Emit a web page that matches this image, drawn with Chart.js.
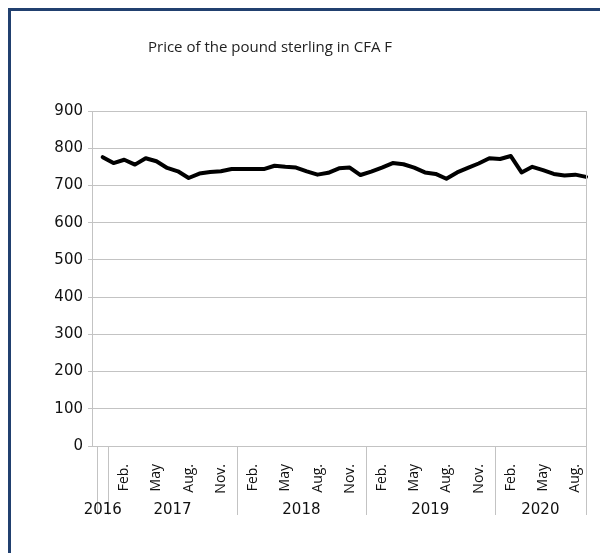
<!DOCTYPE html>
<html>
<head>
<meta charset="utf-8">
<script src="https://cdn.jsdelivr.net/npm/chart.js@4"></script>
<style>
  html, body { margin: 0; padding: 0; background: #fff; overflow: hidden; }
  #wrap { position: relative; width: 600px; height: 553px; }
  #frame {
    position: absolute; left: 8px; top: 8px; width: 620px; height: 580px;
    border-left: 3px solid #21406f; border-top: 3px solid #21406f;
    pointer-events: none;
  }
</style>
</head>
<body>
<div id="wrap">
  <canvas id="priceChart" width="600" height="553"></canvas>
  <div id="frame"></div>
</div>
<script>
// monthly categories, first one is an empty category (no data)
let months = ['', 'Dec.',
    'Jan.', 'Feb.', 'Mar.', 'Apr.', 'May', 'Jun.', 'Jul.', 'Aug.', 'Sep.', 'Oct.', 'Nov.', 'Dec.',
    'Jan.', 'Feb.', 'Mar.', 'Apr.', 'May', 'Jun.', 'Jul.', 'Aug.', 'Sep.', 'Oct.', 'Nov.', 'Dec.',
    'Jan.', 'Feb.', 'Mar.', 'Apr.', 'May', 'Jun.', 'Jul.', 'Aug.', 'Sep.', 'Oct.', 'Nov.', 'Dec.',
    'Jan.', 'Feb.', 'Mar.', 'Apr.', 'May', 'Jun.', 'Jul.', 'Aug.', 'Sep.'];

// year groups: label and how many months each covers
let yearNames = ['', '2016', '2017', '2018', '2019', '2020'];
let yearSizes = [1, 1, 12, 12, 12, 9];

let priceCFA = [null, 776,
    760, 769, 756, 773, 765, 747, 738, 720, 732, 736, 738, 744,
    744, 744, 744, 753, 750, 748, 738, 729, 734, 746, 748, 728,
    737, 748, 760, 757, 748, 735, 731, 718, 735, 747, 759, 773,
    771, 779, 735, 750, 741, 731, 727, 729, 723];

let yTicks = [0, 100, 200, 300, 400, 500, 600, 700, 800, 900];

let chartTitle = 'Price of the pound sterling in CFA F';

let gridColor = '#c3c3c3';
let numFont = 'DejaVu Sans';
let textFont = 'Open Sans';

// draws the title, the second level of the category axis (years) and the group separators
let yearAxis = {
    id: 'yearAxis',
    afterDraw(chart) {
        let ctx = chart.ctx;
        let x = chart.scales.x;
        let area = chart.chartArea;
        let start = 0;
        ctx.save();

        ctx.fillStyle = '#222';
        ctx.font = '15px "' + textFont + '"';
        ctx.textAlign = 'center';
        ctx.textBaseline = 'middle';
        ctx.fillText(chartTitle, 270, 48);

        ctx.strokeStyle = gridColor;
        ctx.lineWidth = 1;
        ctx.fillStyle = '#111';
        ctx.font = '15px "' + numFont + '"';
        for (let g = 0; g < yearNames.length; g++) {
            let end = start + yearSizes[g];
            let left = start === 0 ? area.left : (x.getPixelForValue(start - 1) + x.getPixelForValue(start)) / 2;
            let right = end >= months.length ? area.right : (x.getPixelForValue(end - 1) + x.getPixelForValue(end)) / 2;
            let top = end >= months.length ? area.top : area.bottom;
            let r = Math.round(right) + 0.5;
            ctx.beginPath();
            ctx.moveTo(r, top);
            ctx.lineTo(r, area.bottom + 69);
            ctx.stroke();
            if (yearNames[g]) {
                ctx.fillText(yearNames[g], (left + right) / 2, area.bottom + 64);
            }
            start = end;
        }
        ctx.restore();
    }
};

function drawChart() {
    let canvas = document.getElementById('priceChart');

    let data = {
        labels: months,
        datasets: [{
            label: chartTitle,
            data: priceCFA,
            borderColor: '#000',
            borderWidth: 4,
            borderJoinStyle: 'round',
            borderCapStyle: 'round',
            pointRadius: 0,
            tension: 0,
            fill: false
        }]
    };

    new Chart(canvas, {
        type: 'line',
        data: data,
        plugins: [yearAxis],
        options: {
            responsive: false,
            animation: false,
            layout: { padding: { left: 30, right: 14, top: 111, bottom: 0 } },
            plugins: {
                legend: { display: false },
                tooltip: { enabled: false },
                title: { display: false }
            },
            scales: {
                x: {
                    grid: { display: false },
                    border: { display: true, color: gridColor },
                    afterFit: (scale) => {
                        scale.height = 107;
                        scale.paddingLeft = 0;
                        scale.paddingRight = 0;
                    },
                    ticks: {
                        autoSkip: false,
                        minRotation: 90,
                        maxRotation: 90,
                        padding: 10,
                        color: '#111',
                        font: { family: textFont, size: 14 },
                        callback: function(value, index) {
                            return index % 3 === 0 ? months[index] : '';
                        }
                    }
                },
                y: {
                    min: 0,
                    max: 900,
                    afterFit: (scale) => { scale.width = 62; },
                    afterBuildTicks: (scale) => { scale.ticks = yTicks.map(v => ({ value: v })); },
                    grid: { color: gridColor, tickLength: 4 },
                    border: { color: gridColor },
                    ticks: {
                        padding: 5,
                        color: '#111',
                        font: { family: numFont, size: 15 }
                    }
                }
            }
        }
    });
}

drawChart();
</script>
</body>
</html>
